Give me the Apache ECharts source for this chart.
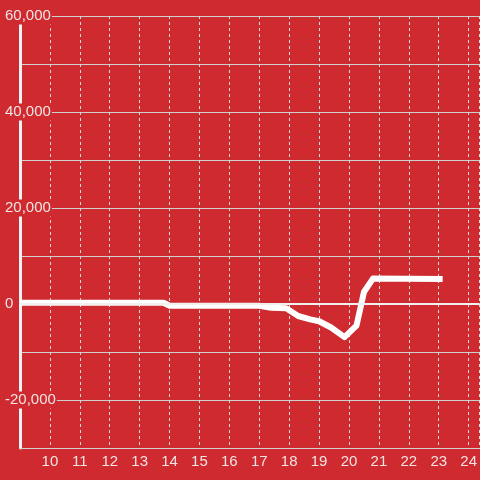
<!DOCTYPE html>
<html>
<head>
<meta charset="utf-8">
<script src="https://cdn.jsdelivr.net/npm/echarts@6/dist/echarts.min.js"></script>
<style>
  html, body { margin: 0; padding: 0; background: #ce2a2f; }
  #main { width: 480px; height: 480px; }
</style>
</head>
<body>
<div id="main"></div>
<script>
// hour of day -> value
var hours = [9.0, 13.8, 14.0, 17.0, 17.4, 17.9, 18.3, 18.7, 19.0, 19.4, 19.85, 20.25, 20.5, 20.8, 23.13];
var values = [250, 250, -350, -350, -800, -900, -2500, -3200, -3600, -4900, -6900, -4500, 2500, 5300, 5200];

var bg = '#ce2a2f';

var myChart = echarts.init(document.getElementById('main'));

var option = {
    backgroundColor: bg,
    animation: false,
    textStyle: { fontFamily: 'Liberation Sans, Arial, sans-serif' },
    grid: { left: 20, right: 0, top: 16, bottom: 32 },
    xAxis: {
        type: 'value',
        min: 9,
        max: 24.37,
        interval: 1,
        axisLine: { show: true, onZero: false, lineStyle: { color: '#cfcfcf', width: 1 } },
        axisTick: { show: false },
        axisLabel: {
            color: '#f2e4e4',
            fontSize: 15,
            margin: 6,
            showMinLabel: false,
            showMaxLabel: false,
            formatter: function (v) {
                return Math.round(v) === v ? String(v) : '';
            }
        },
        splitLine: { show: true, lineStyle: { color: '#dcdcdc', type: [3, 3], width: 1 } }
    },
    yAxis: {
        type: 'value',
        min: -30000,
        max: 60000,
        interval: 10000,
        axisLine: { show: true, lineStyle: { color: '#f2f2f2', width: 3 } },
        axisTick: { show: false },
        axisLabel: {
            color: '#f2e4e4',
            fontSize: 15,
            align: 'left',
            margin: 16,
            backgroundColor: bg,
            padding: [1, 1, 1, 1],
            formatter: function (v) {
                if (v % 20000 !== 0 || v === -30000) return '';
                return v.toLocaleString('en-US');
            }
        },
        splitLine: { show: true, lineStyle: { color: '#cfcfcf', width: 1 } }
    },
    series: [{
        type: 'line',
        data: hours.map(function (h, i) { return [h, values[i]]; }),
        showSymbol: false,
        symbol: 'none',
        lineStyle: { color: '#ffffff', width: 6, join: 'round' },
        markLine: {
            silent: true,
            symbol: 'none',
            label: { show: false },
            lineStyle: { color: '#f0f0f0', width: 2, type: 'solid' },
            data: [{ yAxis: 0 }]
        },
        z: 3
    }]
};

myChart.setOption(option);
</script>
</body>
</html>
